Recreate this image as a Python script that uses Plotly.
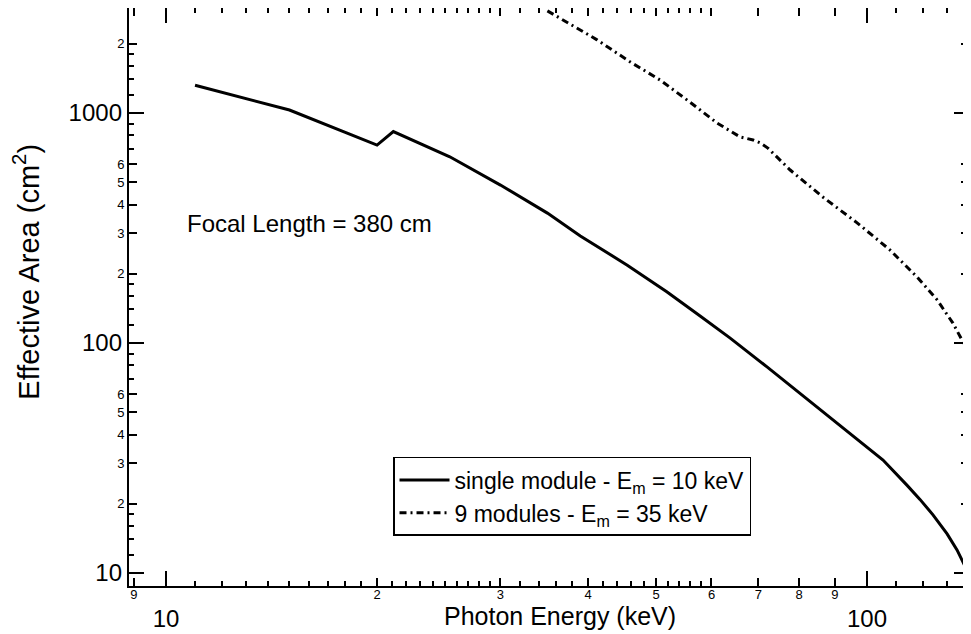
import plotly.graph_objects as go

# ---------------- data ----------------
single_energy = [11.0, 15.0, 20.0, 21.1, 25.4, 30.0, 35.0, 39.0, 45.5, 51.8,
                 57.8, 63.8, 72.0, 89.4, 105.4, 114.0, 119.0, 124.2, 130.1,
                 134.4, 138.0, 139.8]
single_area = [1320, 1030, 725, 830, 645, 486, 367, 292, 218, 167,
               131, 105, 78.7, 46.3, 31.0, 24.1, 20.9, 17.9, 14.8,
               12.6, 10.7, 9.7]

nine_energy = [35.0, 37.3, 41.2, 45.9, 50.7, 55.9, 61.1, 65.9, 68.8, 70.4,
               72.2, 77.7, 86.5, 96.8, 107.8, 117.8, 125.9, 132.6, 137.1, 140.0]
nine_area = [2780, 2490, 2080, 1670, 1390, 1115, 905, 787, 763, 741,
             704, 565, 431, 333, 254, 194, 154, 122, 101, 87]

x_label_vals = [9, 20, 30, 40, 50, 60, 70, 80, 90]
x_label_text = ["9", "2", "3", "4", "5", "6", "7", "8", "9"]
x_minor_vals = [11, 12, 13, 14, 15, 16, 17, 18, 19,
                21, 22, 23, 24, 25, 26, 27, 28, 29,
                32, 34, 36, 38, 42, 44, 46, 48, 52, 54, 56, 58,
                110, 120, 130]
x_decade_vals = [10, 100]
x_decade_text = ["10", "100"]

y_label_vals = [20, 30, 40, 50, 60, 200, 300, 400, 500, 600, 2000]
y_label_text = ["2", "3", "4", "5", "6", "2", "3", "4", "5", "6", "2"]
y_minor_vals = [12, 14, 16, 18, 70, 80, 90,
                120, 140, 160, 180, 700, 800, 900,
                1200, 1400, 1600, 1800]
y_decade_vals = [10, 100, 1000]
y_decade_text = ["10", "100", "1000"]

x_range_log = [0.9472, 2.1455]
y_range_log = [0.9435, 3.4565]

FONT = "Liberation Sans, Arial, Helvetica, sans-serif"

fig = go.Figure()

fig.add_trace(go.Scatter(
    x=single_energy, y=single_area, mode="lines",
    name="single module - E<sub>m</sub> = 10 keV",
    line=dict(color="black", width=3),
))
fig.add_trace(go.Scatter(
    x=nine_energy, y=nine_area, mode="lines",
    name="9 modules - E<sub>m</sub> = 35 keV",
    line=dict(color="black", width=3, dash="7px,4px,2px,4px"),
))
# carrier trace for the overlay axes holding the decade ticks
fig.add_trace(go.Scatter(x=[], y=[], xaxis="x2", yaxis="y2",
                         showlegend=False, hoverinfo="skip"))

common = dict(type="log", showgrid=False, zeroline=False, ticks="inside",
              tickcolor="black", automargin=False)

# the page body adds an 8px offset, so the figure is made 8px smaller
fig.update_layout(
    template="none",
    width=963, height=626,
    margin=dict(l=121, r=2, t=0, b=48, pad=0),
    paper_bgcolor="white", plot_bgcolor="white",
    font=dict(family=FONT, color="black"),
    xaxis=dict(**common, range=x_range_log, showline=True, linewidth=2,
               linecolor="black", mirror="ticks",
               tickmode="array", tickvals=x_label_vals, ticktext=x_label_text,
               ticklen=8, tickwidth=1.5, tickfont=dict(size=13),
               ticklabelstandoff=-5,
               minor=dict(tickvals=x_minor_vals, ticks="inside", ticklen=5,
                          tickwidth=1.5, tickcolor="black", showgrid=False)),
    yaxis=dict(**common, range=y_range_log, showline=True, linewidth=2,
               linecolor="black", mirror="ticks",
               tickmode="array", tickvals=y_label_vals, ticktext=y_label_text,
               ticklen=8, tickwidth=1.5, tickfont=dict(size=13),
               minor=dict(tickvals=y_minor_vals, ticks="inside", ticklen=5,
                          tickwidth=1.5, tickcolor="black", showgrid=False)),
    xaxis2=dict(**common, range=x_range_log, overlaying="x", anchor="y2",
                side="bottom", showline=False, mirror="ticks",
                tickmode="array", tickvals=x_decade_vals, ticktext=x_decade_text,
                ticklen=15, tickwidth=2, tickfont=dict(size=24),
                ticklabelstandoff=16),
    yaxis2=dict(**common, range=y_range_log, overlaying="y", anchor="x2",
                side="left", showline=False, mirror="ticks",
                tickmode="array", tickvals=y_decade_vals, ticktext=y_decade_text,
                ticklen=15, tickwidth=2, tickfont=dict(size=24),
                ticklabelstandoff=6),
    legend=dict(x=0.3143, y=0.2232, xanchor="left", yanchor="top",
                bordercolor="black", borderwidth=1.5, bgcolor="white",
                font=dict(size=23, family=FONT), itemwidth=50,
                tracegroupgap=0),
    showlegend=True,
    annotations=[
        dict(text="Photon Energy (keV)", xref="paper", yref="paper",
             x=0.513, y=-0.0519, xanchor="center", yanchor="middle",
             showarrow=False, font=dict(size=25)),
        dict(text="Effective Area (cm<sup>2</sup>)", xref="paper", yref="paper",
             x=-0.122, y=0.543, xanchor="center", yanchor="middle",
             textangle=-90, showarrow=False, font=dict(size=29)),
        dict(text="Focal Length = 380 cm", xref="paper", yref="paper",
             x=0.0667, y=0.628, xanchor="left", yanchor="middle",
             showarrow=False, font=dict(size=24)),
    ],
)

fig.write_html("out.html")
